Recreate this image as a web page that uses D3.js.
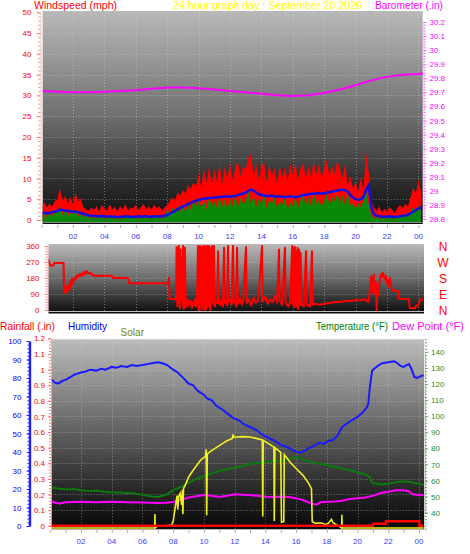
<!DOCTYPE html>
<html><head><meta charset="utf-8">
<script src="https://cdn.jsdelivr.net/npm/d3@7"></script>
<style>body{margin:0;background:#fff;} svg{display:block;font-family:"Liberation Sans",Arial,sans-serif;}</style>
</head><body><svg id="c" width="470" height="554"></svg>
<script>
// ---------------- DATA ----------------
// wind samples every 10 minutes starting 00:00
const windGust = [3.5,4.2,3.0,4.0,3.2,4.5, 5.0,7.6,4.8,5.8,4.2,5.5, 3.8,6.5,4.6,5.2,3.0,2.6,
  2.2,3.0,2.4,3.4,2.0,3.6, 2.8,2.2,3.8,2.5,3.2,2.0, 3.4,2.6,3.9,2.2,3.0,2.8, 3.6,2.4,3.1,3.9,2.6,3.3,
  2.5,3.7,2.9,3.4,2.3,3.0, 3.6,4.5,5.4,4.8,6.6,5.9, 7.2,6.4,8.3,7.5,9.0,8.1, 11.2,8.0,12.4,9.1,13.0,8.6,
  12.2,9.4,13.5,8.8,12.8,10.0, 13.8,9.6,12.4,14.2,10.5,13.0, 12.1,14.8,15.8,10.8,13.6,9.9,
  12.9,14.0,9.2,13.3,10.6,12.5, 8.8,13.1,10.4,12.7,9.6,13.5, 10.9,13.9,9.8,12.6,13.6,10.2,
  13.2,10.5,14.1,11.0,13.4,10.1, 12.8,14.5,10.7,13.2,11.0,14.3, 12.3,10.0,13.7,8.5,10.4,7.6,
  9.2,6.8,10.3,7.4,16.2,11.5, 4.5,3.0,2.2,3.3,1.8,2.7, 2.0,3.1,2.4,1.6,2.9,3.6, 2.8,4.0,3.2,5.5,7.8,6.2, 9.8,7.0];
const windAvg = [1.5,1.8,1.6,1.7,1.9,2.0, 2.2,2.5,2.4,2.3,2.2,2.1, 2.0,2.0,1.9,1.7,1.5,1.3,
  1.1,1.0,1.0,0.9,0.9,1.0, 0.9,0.8,0.9,0.8,0.8,0.7, 0.7,0.8,0.9,0.8,0.8,0.7, 0.8,0.9,0.8,0.9,0.9,0.8,
  0.8,0.9,0.9,0.8,0.9,1.0, 1.2,1.5,1.9,2.2,2.6,2.9, 3.2,3.5,3.8,4.1,4.4,4.6, 4.8,5.0,5.1,5.2,5.3,5.3,
  5.4,5.5,5.5,5.6,5.6,5.7, 5.6,5.7,5.8,6.0,6.2,6.4, 6.6,7.0,7.3,7.1,6.6,6.2, 6.0,5.9,5.8,5.8,5.9,5.7,
  5.6,5.7,5.6,5.5,5.6,5.7, 5.6,5.5,5.6,5.8,6.0,6.1, 6.2,6.3,6.3,6.4,6.5,6.4, 6.4,6.6,6.7,6.8,7.0,7.1,
  7.2,7.3,7.2,6.8,6.0,5.4, 5.0,4.8,5.0,5.6,7.2,8.4, 3.0,1.4,1.0,0.9,0.8,0.8, 0.8,0.9,0.8,0.7,0.8,0.9,
  1.0,1.1,1.3,1.6,2.0,2.4, 2.8,3.0];
const windSpeed = [1.0,2.2,0.5,1.8,0.8,2.5, 1.5,3.5,1.2,2.8,0.9,2.0, 1.4,2.6,0.8,1.9,0.6,1.2,
  0.4,1.1,0.3,0.9,0.2,1.2, 0.5,0.2,1.0,0.3,0.8,0.1, 0.6,0.2,1.1,0.4,0.7,0.3, 0.9,0.2,0.6,1.2,0.3,0.8,
  0.2,1.0,0.5,0.9,0.1,0.7, 2.8,1.2,3.0,1.6,3.8,2.0, 3.5,1.8,4.2,2.4,4.8,3.0, 5.5,2.8,4.8,2.6,5.6,3.4,
  4.6,2.9,5.8,3.2,4.9,2.6, 5.2,3.4,6.0,3.0,5.4,3.9, 4.6,7.2,3.8,6.0,3.2,5.1, 3.8,6.4,2.9,5.0,3.9,5.8,
  2.8,4.7,3.6,5.5,2.6,4.4, 3.4,5.6,3.0,4.9,6.2,3.6, 5.4,3.3,6.6,3.9,5.0,3.2, 4.8,6.2,3.6,5.7,4.4,6.5,
  4.2,5.9,3.4,6.8,3.6,4.0, 2.6,4.1,3.2,4.6,7.0,3.8, 1.2,0.4,0.8,0.2,0.6,0.3, 0.5,0.9,0.2,0.6,0.4,1.0,
  0.6,1.3,0.9,2.0,3.2,1.8, 3.5,2.4];
const baroHours = [0,1,2,3,4,5,6,7,8,9,10,11,12,13,14,15,16,17,18,19,20,21,22,23,24,24.3];
const baroValues = [29.71,29.705,29.70,29.70,29.705,29.71,29.715,29.725,29.735,29.735,29.73,29.72,29.71,
  29.70,29.69,29.68,29.675,29.68,29.695,29.72,29.75,29.785,29.81,29.825,29.83,29.835];
// wind direction [hour, degrees]
const windDirection = [[0.1,280],[0.45,280],[0.55,250],[0.75,250],[0.8,265],[1.4,265],[1.43,103],[1.5,95],
  [1.55,130],[1.62,100],[1.68,140],[1.75,110],[1.81,160],[1.88,125],[1.94,175],[2.0,150],[2.06,180],[2.15,170],
  [2.25,195],[2.35,185],[2.45,205],[2.57,190],[2.66,215],[2.76,200],[2.86,220],[2.96,205],[3.08,210],[3.2,200],
  [3.34,192],[4.48,192],[4.55,180],[5.5,180],[5.57,150],[8.05,150],[8.11,180],[8.16,62],[8.5,62],
  [8.56,55],[8.6,355],[8.65,20],[8.69,350],[8.72,40],[8.75,360],[8.8,10],[8.85,340],[8.88,60],[8.94,300],
  [8.98,30],[9.01,360],[9.05,5],[9.1,45],[9.13,350],[9.18,15],[9.23,60],[9.3,40],[9.35,20],[9.4,55],[9.45,35],
  [9.5,50],[9.58,10],[9.65,45],[9.71,30],[9.77,60],[9.83,20],[9.9,50],[9.96,360],[10.0,0],[10.03,340],[10.06,20],
  [10.09,360],[10.12,60],[10.15,350],[10.19,0],[10.22,355],[10.26,40],[10.28,360],[10.31,10],[10.34,330],
  [10.38,0],[10.41,360],[10.44,30],[10.47,345],[10.5,5],[10.54,360],[10.57,20],[10.6,300],[10.63,60],[10.66,360],
  [10.7,10],[10.73,350],[10.76,0],[10.79,330],[10.82,40],[10.85,360],[10.88,60],[10.92,290],[10.96,30],[10.98,360],
  [11.02,50],[11.04,20],[11.11,50],[11.2,40],[11.24,330],[11.28,45],[11.36,30],[11.45,60],[11.55,20],[11.62,350],
  [11.66,40],[11.75,55],[11.83,25],[11.87,360],[11.91,45],[12.0,60],[12.1,30],[12.19,360],[12.23,40],[12.32,55],
  [12.4,20],[12.45,350],[12.5,35],[12.64,65],[12.75,30],[12.83,50],[13.02,355],[13.06,40],[13.2,60],[13.35,25],
  [13.5,70],[13.65,40],[13.8,55],[14.04,360],[14.08,50],[14.25,75],[14.4,35],[14.55,60],[14.7,45],[14.87,80],
  [15.0,40],[15.12,340],[15.16,55],[15.32,30],[15.5,350],[15.54,40],[15.71,20],[15.83,45],[15.96,360],[16.0,30],
  [16.05,350],[16.09,15],[16.13,355],[16.18,40],[16.22,330],[16.26,20],[16.3,350],[16.34,5],[16.4,340],[16.46,30],
  [16.5,320],[16.55,25],[16.59,40],[16.7,20],[16.84,330],[16.88,35],[17.0,25],[17.1,20],[17.22,330],[17.26,30],
  [17.41,35],[17.73,30],[18.0,35],[18.37,40],[18.7,45],[19.01,45],[19.3,50],[19.64,50],[20.0,55],[20.27,55],
  [20.6,60],[20.8,45],[20.92,120],[21.0,190],[21.04,170],[21.1,100],[21.17,200],[21.22,90],[21.3,150],[21.34,0],
  [21.38,120],[21.43,80],[21.5,140],[21.55,170],[21.62,200],[21.69,185],[21.75,210],[21.81,190],[21.88,170],
  [21.94,190],[22.0,150],[22.06,170],[22.12,130],[22.19,180],[22.25,140],[22.32,110],[22.51,110],[22.7,105],
  [22.76,65],[23.0,62],[23.4,62],[23.45,10],[23.8,10],[23.85,25],[24.0,25],[24.1,55],[24.3,60]];
// bottom panel [hour, value]
const humidity = [[0.1,79],[0.3,77.5],[0.5,77],[0.8,78.5],[1.0,79],[1.3,80.5],[1.6,82],[2.0,83],[2.3,83.5],
  [2.6,84.5],[3.0,84],[3.3,85],[3.6,84.5],[4.0,86],[4.3,85.5],[4.6,86.5],[5.0,86],[5.3,87],[5.6,86.5],[6.0,87],
  [6.3,87.5],[6.6,88],[7.0,88.5],[7.3,88],[7.6,87],[8.0,84.5],[8.3,83],[8.6,80.5],[9.0,77],[9.3,76],[9.6,73],
  [10.0,71],[10.2,69],[10.5,68],[10.8,65],[11.0,64],[11.2,63],[11.5,61],[11.8,59],[12.0,58],[12.3,57],[12.6,55],
  [13.0,53.5],[13.4,52],[13.7,50],[14.0,48.5],[14.5,46.5],[14.8,45],[15.0,44],[15.3,43],[15.6,42],[15.9,40.5],
  [16.2,39.5],[16.5,40.5],[16.8,42],[17.1,43],[17.5,45],[17.8,44.5],[18.1,46],[18.4,46.5],[18.7,49],[19.0,53.5],
  [19.5,56.5],[20.0,59],[20.3,61],[20.6,64],[20.7,66],[20.8,75],[20.95,84],[21.3,86.5],[21.6,88],[22.0,88.5],
  [22.4,89],[22.6,88],[22.8,86.5],[23.0,86],[23.2,87],[23.35,87.5],[23.5,85],[23.7,80.5],[23.9,80],[24.1,81],[24.3,81.5]];
const temperature = [[0.1,55.5],[0.5,55],[1.0,54.5],[1.5,54.8],[2.0,54],[2.5,53.5],[3.0,53.8],[3.5,53],[4.0,52.8],
  [4.5,52.5],[5.0,52.2],[5.5,52],[6.0,51.2],[6.5,50.2],[7.0,49.8],[7.5,51],[8.0,54],[8.5,56],[9.0,58.5],[9.5,61],
  [10.0,62.8],[10.5,64.5],[11.0,66],[11.5,67],[12.0,68],[12.5,69],[13.0,70.5],[13.5,71],[14.0,71.5],[14.5,72],
  [15.0,72.5],[15.5,73.5],[16.0,74.5],[16.3,74],[16.6,72.5],[17.0,71.5],[17.5,70.5],[18.0,69.5],[18.5,68.5],
  [19.0,67.5],[19.5,66.5],[20.0,65],[20.6,63.5],[20.8,62],[20.95,58.5],[21.5,57.5],[22.0,58],[22.5,59],[23.0,59.5],
  [23.5,59],[24.0,58],[24.3,57.3]];
const dewPoint = [[0.1,47],[0.3,46.2],[0.6,45.8],[1.0,46.5],[2.0,46.8],[3.0,46.5],[4.0,46.8],[5.0,46.5],[6.0,46.3],
  [7.0,46],[7.5,46.2],[8.0,46.7],[8.5,48],[9.0,49.5],[9.5,50.2],[10.0,51],[10.5,50.5],[11.0,49.8],[11.5,50.5],
  [12.0,51.5],[12.5,51.2],[13.0,51],[13.5,50.5],[14.0,50],[14.5,49.8],[15.0,50],[15.5,49.8],[16.0,49],[16.4,48],
  [16.8,46.5],[17.1,45.5],[17.3,45],[17.6,46.5],[18.0,46.8],[18.5,47],[19.0,47.5],[19.5,48.5],[20.0,49],[20.5,49.5],
  [21.0,50.5],[21.5,52.2],[22.0,53],[22.5,54],[23.0,54],[23.3,53.5],[23.6,51.5],[24.0,51],[24.3,51]];
const solar = [[0,0],[6.8,0],[6.81,120],[6.83,0],[6.95,15],[7.5,20],[7.9,25],[8.0,60],[8.1,150],[8.25,280],
  [8.3,160],[8.35,270],[8.45,300],[8.55,200],[8.6,330],[8.63,120],[8.67,340],[8.78,370],[8.85,390],[9.0,440],
  [9.1,460],[9.3,500],[9.55,545],[9.8,590],[10.1,620],[10.15,680],[10.18,110],[10.22,640],[10.5,670],[10.85,700],
  [11.2,730],[11.5,755],[11.85,775],[11.9,810],[11.95,785],[12.5,790],[13.0,787],[13.4,775],[13.8,762],[13.83,100],
  [13.86,758],[14.2,730],[14.55,700],[14.58,60],[14.62,695],[15.0,655],[15.05,50],[15.2,55],[15.23,635],[15.6,570],
  [16.0,515],[16.45,455],[16.8,390],[17.0,340],[17.05,55],[17.3,40],[17.6,45],[17.9,30],[18.1,40],[18.3,75],
  [18.4,45],[18.6,30],[18.85,10],[18.97,0],[18.98,115],[19.0,0],[24.3,0]];
const rainfall = [[0,0],[21.0,0],[21.0,0.013],[21.85,0.013],[21.85,0.028],[24.02,0.028],[24.02,0],[24.3,0]];
const hourTicks = [2,4,6,8,10,12,14,16,18,20,22,24];
const hourLabels = ["02","04","06","08","10","12","14","16","18","20","22","00"];
const compassTicks = [360,270,180,90,0];
const compassLabels = ["N","W","S","E","N"];

// ---------------- DRAW ----------------
const svg = d3.select("#c");
const FONT = '"Liberation Sans",Arial,sans-serif';
const defs = svg.append("defs");
function grad(id, stops){
  const g = defs.append("linearGradient").attr("id",id).attr("x1",0).attr("y1",0).attr("x2",0).attr("y2",1);
  stops.forEach(s=>g.append("stop").attr("offset",s[0]).attr("stop-color",s[1]));
}
grad("gTop",[[0,"#b9b9b9"],[0.5,"#6e6e6e"],[0.8,"#2e2e2e"],[1,"#0c0c0c"]]);
grad("gMid",[[0,"#bababa"],[0.5,"#6a6a6a"],[1,"#0a0a0a"]]);
grad("gBot",[[0,"#bcbcbc"],[0.5,"#5e5e5e"],[0.8,"#262626"],[1,"#080808"]]);
function clip(id,x,y,w,h){ defs.append("clipPath").attr("id",id).append("rect").attr("x",x).attr("y",y).attr("width",w).attr("height",h); }

const P1 = {x:42.7,y:11,w:380,h:213};
const P2 = {x:48.5,y:244,w:375.5,h:69.5};
const P3 = {x:51.7,y:339.3,w:372.5,h:190};
clip("c1",P1.x,P1.y,P1.w,P1.h); clip("c2",P2.x,P2.y,P2.w,P2.h); clip("c3",P3.x,P3.y,P3.w,P3.h);

const xTop = d3.scaleLinear().domain([0,24]).range([41.6,418.4]);
const yWind = d3.scaleLinear().domain([0,50]).range([220,12.3]);
const yBaro = d3.scaleLinear().domain([28.8,30.2]).range([219,22]);
const yDir = d3.scaleLinear().domain([0,360]).range([310,246]);
const xBot = d3.scaleLinear().domain([0,24]).range([50.3,419]);
const yHum = d3.scaleLinear().domain([0,100]).range([526,341]);
const yRain = d3.scaleLinear().domain([0,1.2]).range([525.7,338.4]);
const yTemp = d3.scaleLinear().domain([40,140]).range([512.7,352]);
const ySolar = d3.scaleLinear().domain([0,1600]).range([528,343]);

svg.append("rect").attr("x",P1.x).attr("y",P1.y).attr("width",P1.w).attr("height",P1.h).attr("fill","url(#gTop)");
svg.append("rect").attr("x",P2.x).attr("y",P2.y).attr("width",P2.w).attr("height",P2.h).attr("fill","url(#gMid)");
svg.append("rect").attr("x",P3.x).attr("y",P3.y).attr("width",P3.w).attr("height",P3.h).attr("fill","url(#gBot)");

const gridCol = "rgba(215,215,215,0.45)";
function hGrid(vals, scale, P, clipId){
  svg.append("g").attr("clip-path",`url(#${clipId})`).selectAll("line").data(vals).join("line")
    .attr("x1",P.x).attr("x2",P.x+P.w).attr("y1",d=>Math.round(scale(d))+0.5).attr("y2",d=>Math.round(scale(d))+0.5)
    .attr("stroke",gridCol).attr("stroke-dasharray","1,2");
}
function vGrid(vals, scale, P, clipId){
  svg.append("g").attr("clip-path",`url(#${clipId})`).selectAll("line").data(vals).join("line")
    .attr("y1",P.y).attr("y2",P.y+P.h).attr("x1",d=>Math.round(scale(d))+0.5).attr("x2",d=>Math.round(scale(d))+0.5)
    .attr("stroke",gridCol).attr("stroke-dasharray","1,2");
}
hGrid(d3.range(5,50,5), yWind, P1, "c1"); vGrid(hourTicks, xTop, P1, "c1");
hGrid([90,180,270], yDir, P2, "c2"); vGrid(hourTicks, xTop, P2, "c2");
hGrid(d3.range(1,12).map(d=>d/10), yRain, P3, "c3"); vGrid(hourTicks, xBot, P3, "c3");
svg.append("line").attr("x1",P1.x).attr("x2",P1.x+P1.w).attr("y1",222.5).attr("y2",222.5).attr("stroke","#8a8a8a");
svg.append("line").attr("x1",P2.x).attr("x2",P2.x+P2.w).attr("y1",311.5).attr("y2",311.5).attr("stroke","#bdbdbd");

const hrs = d3.range(0,25);
svg.append("g").selectAll("line").data(hrs).join("line").attr("x1",d=>xTop(d)+0.5).attr("x2",d=>xTop(d)+0.5)
  .attr("y1",225).attr("y2",228).attr("stroke","#b0b0b0");
svg.append("g").selectAll("line").data(hrs).join("line").attr("x1",d=>xBot(d)+0.5).attr("x2",d=>xBot(d)+0.5)
  .attr("y1",530).attr("y2",533).attr("stroke","#b0b0b0");

// ---- top panel data ----
const g1 = svg.append("g").attr("clip-path","url(#c1)");
const tIdx = (d,i)=>xTop(i/6);
const area = (vals)=>d3.area().x(tIdx).y0(yWind(0)+2).y1(d=>yWind(d))(vals);
g1.append("path").attr("d",area(windGust)).attr("fill","#ff0000");
g1.append("path").attr("d",area(windSpeed)).attr("fill","#0a880a");
g1.append("path").attr("d",d3.line().x(tIdx).y(d=>yWind(d))(windAvg)).attr("fill","none").attr("stroke","#1010e0").attr("stroke-width",2.5);
g1.append("path").attr("d",d3.line().x((d,i)=>xTop(baroHours[i])).y(d=>yBaro(d))(baroValues))
  .attr("fill","none").attr("stroke","#ff00ff").attr("stroke-width",2);

// ---- middle panel ----
svg.append("g").attr("clip-path","url(#c2)").append("path")
  .attr("d",d3.line().x(d=>xTop(d[0])).y(d=>yDir(d[1]))(windDirection))
  .attr("fill","none").attr("stroke","#ff0000").attr("stroke-width",2).attr("stroke-linejoin","round");

// ---- bottom panel ----
const g3 = svg.append("g").attr("clip-path","url(#c3)");
const ln = (ys)=>d3.line().x(d=>xBot(d[0])).y(d=>ys(d[1]));
g3.append("path").attr("d",ln(yHum)(humidity)).attr("fill","none").attr("stroke","#1a1aff").attr("stroke-width",2);
g3.append("path").attr("d",ln(yTemp)(temperature)).attr("fill","none").attr("stroke","#0a7a0a").attr("stroke-width",2);
g3.append("path").attr("d",ln(yTemp)(dewPoint)).attr("fill","none").attr("stroke","#ff00ff").attr("stroke-width",2);
g3.append("path").attr("d",ln(ySolar)(solar)).attr("fill","none").attr("stroke","#f0f020").attr("stroke-width",1.6);
g3.append("path").attr("d",ln(yRain)(rainfall)).attr("fill","none").attr("stroke","#ff0000").attr("stroke-width",2.5);

// ---- axes ----
function styleAxis(g, lineCol, txtCol, dashed){
  g.attr("font-size",8).attr("font-family",FONT);
  g.select(".domain").attr("stroke",lineCol).attr("stroke-dasharray",dashed?"1,1":null);
  g.selectAll(".tick line").attr("stroke",lineCol);
  g.selectAll(".tick text").attr("fill",txtCol);
  return g;
}
function minorAxis(axisFn, scale, x, vals, size, col){
  const g = svg.append("g").attr("transform",`translate(${x},0)`)
    .call(axisFn(scale).tickValues(vals).tickSize(size).tickSizeOuter(0).tickFormat(""));
  g.select(".domain").remove();
  g.selectAll(".tick line").attr("stroke",col);
}
const fmt1 = d=>String(+d.toFixed(1));
minorAxis(d3.axisLeft, yWind, 40.5, d3.range(0,51,1), 2, "#ff8080");
styleAxis(svg.append("g").attr("transform","translate(40.5,0)")
  .call(d3.axisLeft(yWind).tickValues(d3.range(0,51,5)).tickSize(4).tickSizeOuter(0).tickPadding(5)),"#ff8080","#ff0000",true);
minorAxis(d3.axisRight, yBaro, 423.5, d3.range(0,71).map(i=>28.8+i*0.02).filter(v=>v<=30.29), 2, "#ff70ff");
styleAxis(svg.append("g").attr("transform","translate(423.5,0)")
  .call(d3.axisRight(yBaro).tickValues(d3.range(0,15).map(i=>28.8+i*0.1)).tickSize(3).tickSizeOuter(0).tickPadding(3).tickFormat(fmt1)),"#ff70ff","#ff00ff",true);
svg.append("g").attr("font-size",8).attr("font-family",FONT).selectAll("text").data(hourTicks).join("text")
  .attr("x",d=>xTop(d)).attr("y",238.5).attr("text-anchor","middle").attr("fill","#3a3aff").text((d,i)=>hourLabels[i]);
minorAxis(d3.axisLeft, yDir, 47.5, d3.range(0,361,15), 2, "#ff8080");
styleAxis(svg.append("g").attr("transform","translate(47.5,0)")
  .call(d3.axisLeft(yDir).tickValues([0,90,180,270,360]).tickSize(3).tickSizeOuter(0).tickPadding(5)),"#ff8080","#ff0000",true);
svg.append("g").attr("font-size",12).attr("font-family",FONT).selectAll("text").data(compassTicks).join("text")
  .attr("x",443).attr("y",d=>yDir(d)+4.5).attr("text-anchor","middle").attr("fill","#ff0000").text((d,i)=>compassLabels[i]);
minorAxis(d3.axisLeft, yHum, 29.5, d3.range(0,101,2), 2, "#2020ff");
const gh = styleAxis(svg.append("g").attr("transform","translate(29.5,0)")
  .call(d3.axisLeft(yHum).tickValues(d3.range(0,101,10)).tickSize(3).tickSizeOuter(0).tickPadding(5)),"#2020ff","#0000ff",false);
gh.select(".domain").attr("stroke-width",2.4);
minorAxis(d3.axisLeft, yRain, 51, d3.range(0,61).map(i=>i*0.02), 2, "#ff7070");
styleAxis(svg.append("g").attr("transform","translate(51,0)")
  .call(d3.axisLeft(yRain).tickValues(d3.range(0,13).map(i=>i/10)).tickSize(3).tickSizeOuter(0).tickPadding(3).tickFormat(fmt1)),"#ff7070","#ff0000",true);
minorAxis(d3.axisRight, yTemp, 425, d3.range(30,149,2), 2, "#60b060");
styleAxis(svg.append("g").attr("transform","translate(425,0)")
  .call(d3.axisRight(yTemp).tickValues(d3.range(40,141,10)).tickSize(3).tickSizeOuter(0).tickPadding(3)),"#60b060","#2a8a2a",true);
svg.append("g").attr("font-size",8).attr("font-family",FONT).selectAll("text").data(hourTicks).join("text")
  .attr("x",d=>xBot(d)).attr("y",543.5).attr("text-anchor","middle").attr("fill","#3a3aff").text((d,i)=>hourLabels[i]);

// ---- titles ----
function title(txt,x,y,col,len){
  svg.append("text").attr("x",x).attr("y",y).attr("fill",col).attr("font-size",10.5).attr("font-family",FONT)
    .attr("textLength",len).attr("lengthAdjust","spacingAndGlyphs").text(txt);
}
title("Windspeed (mph)",34,9,"#ff0000",83);
title("24 hour graph day : September 20 2026",173,9,"#ffff00",189);
title("Barometer (.in)",375,9,"#ff00ff",68);
title("Rainfall (.in)",0,330,"#ff0000",55);
title("Humidity",68,330,"#0000ff",39);
title("Solar",120.5,336,"#808000",23.5);
title("Temperature (°F)",316,330,"#008000",72);
title("Dew Point (°F)",392,330,"#ff00ff",72);
</script></body></html>
